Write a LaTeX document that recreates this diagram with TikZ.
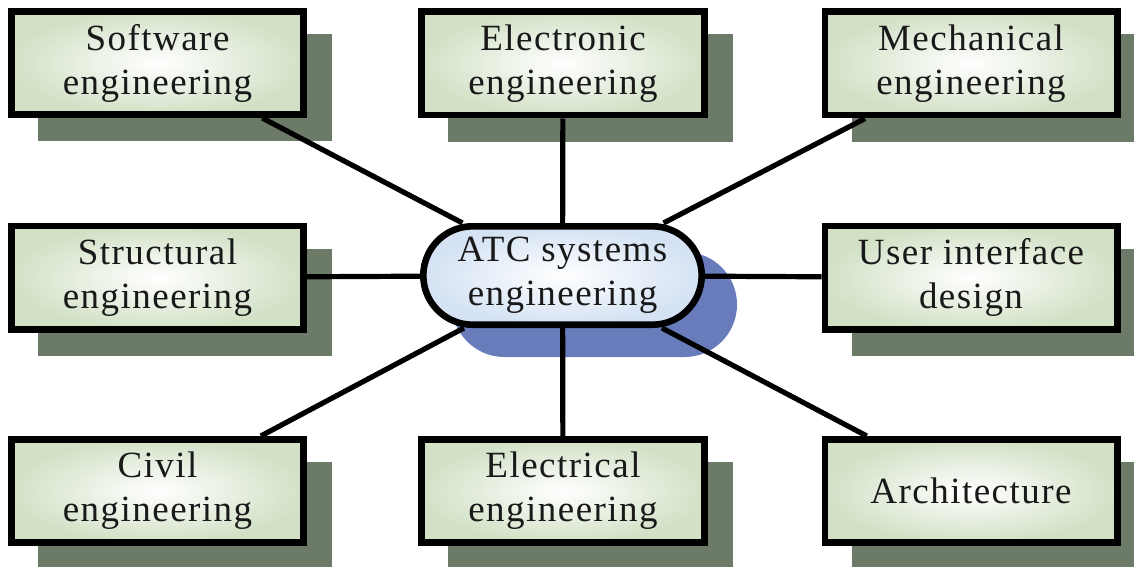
\documentclass[tikz,border=0pt]{standalone}
\usepackage{fontspec}
\setmainfont{Liberation Serif}[LetterSpace=4]
\usetikzlibrary{calc,backgrounds}

\definecolor{boxgreen}{RGB}{210,225,198}
\definecolor{shadowgreen}{RGB}{108,122,104}
\definecolor{ovalblue}{RGB}{212,226,243}
\definecolor{shadowblue}{RGB}{104,124,188}
\definecolor{inkgrey}{RGB}{25,25,25}

\begin{document}
\begin{tikzpicture}[x=0.5pt,y=0.5pt,
  discipline/.style={rectangle,draw,line width=3.3pt,inner color=white,outer color=boxgreen,
    minimum width=146.2pt,minimum height=51.7pt,align=center,text=inkgrey,
    font=\fontsize{18.5}{22}\selectfont},
  narrow/.style={minimum width=141.7pt},
  core/.style={rectangle,draw,line width=3.3pt,rounded corners=24.6pt,inner color=white,outer color=ovalblue,
    minimum width=139.2pt,minimum height=49.2pt,align=center,text=inkgrey,
    font=\fontsize{18.5}{22}\selectfont},
  link/.style={draw,line width=2.6pt}]
\useasboundingbox (0,0) rectangle (1134,-567);

\node[core] (0) at (562.5,-275.5) {ATC systems\\engineering};
\node[discipline] (1) at (157.5,-63) {Software\\engineering};
\node[discipline,narrow] (2) at (563,-63.5) {Electronic\\engineering};
\node[discipline] (3) at (971,-63.5) {Mechanical\\engineering};
\node[discipline] (4) at (157.5,-277.5) {Structural\\engineering};
\node[discipline] (5) at (971,-277.5) {User interface\\design};
\node[discipline] (6) at (157.5,-491) {Civil\\engineering};
\node[discipline,narrow] (7) at (563,-491) {Electrical\\engineering};
\node[discipline] (8) at (971,-491) {Architecture};

\begin{pgfonlayer}{background}
% drop shadows sit under the connectors
\fill[shadowgreen] ($(1.north west)+(30,-26)$) rectangle ($(1.south east)+(25,-23)$);
\fill[shadowgreen] ($(2.north west)+(30,-26)$) rectangle ($(2.south east)+(25,-23)$);
\fill[shadowgreen] ($(3.north west)+(30,-26)$) rectangle ($(3.south east)+(25,-23)$);
\fill[shadowgreen] ($(4.north west)+(30,-26)$) rectangle ($(4.south east)+(25,-23)$);
\fill[shadowgreen] ($(5.north west)+(30,-26)$) rectangle ($(5.south east)+(25,-23)$);
\fill[shadowgreen] ($(6.north west)+(30,-26)$) rectangle ($(6.south east)+(25,-23)$);
\fill[shadowgreen] ($(7.north west)+(30,-26)$) rectangle ($(7.south east)+(25,-23)$);
\fill[shadowgreen] ($(8.north west)+(30,-26)$) rectangle ($(8.south east)+(25,-23)$);
\fill[shadowblue,rounded corners=26.2pt] ($(0.north west)+(32,-29)$) rectangle ($(0.south east)+(32,-29)$);
\path[link](0) edge node {} (1);
\path[link](0) edge node {} (2);
\path[link](0) edge node {} (3);
\path[link](0) edge node {} (4);
\path[link](0) edge node {} (5);
\path[link](0) edge node {} (6);
\path[link](0) edge node {} (7);
\path[link](0) edge node {} (8);
\end{pgfonlayer}
\end{tikzpicture}
\end{document}
